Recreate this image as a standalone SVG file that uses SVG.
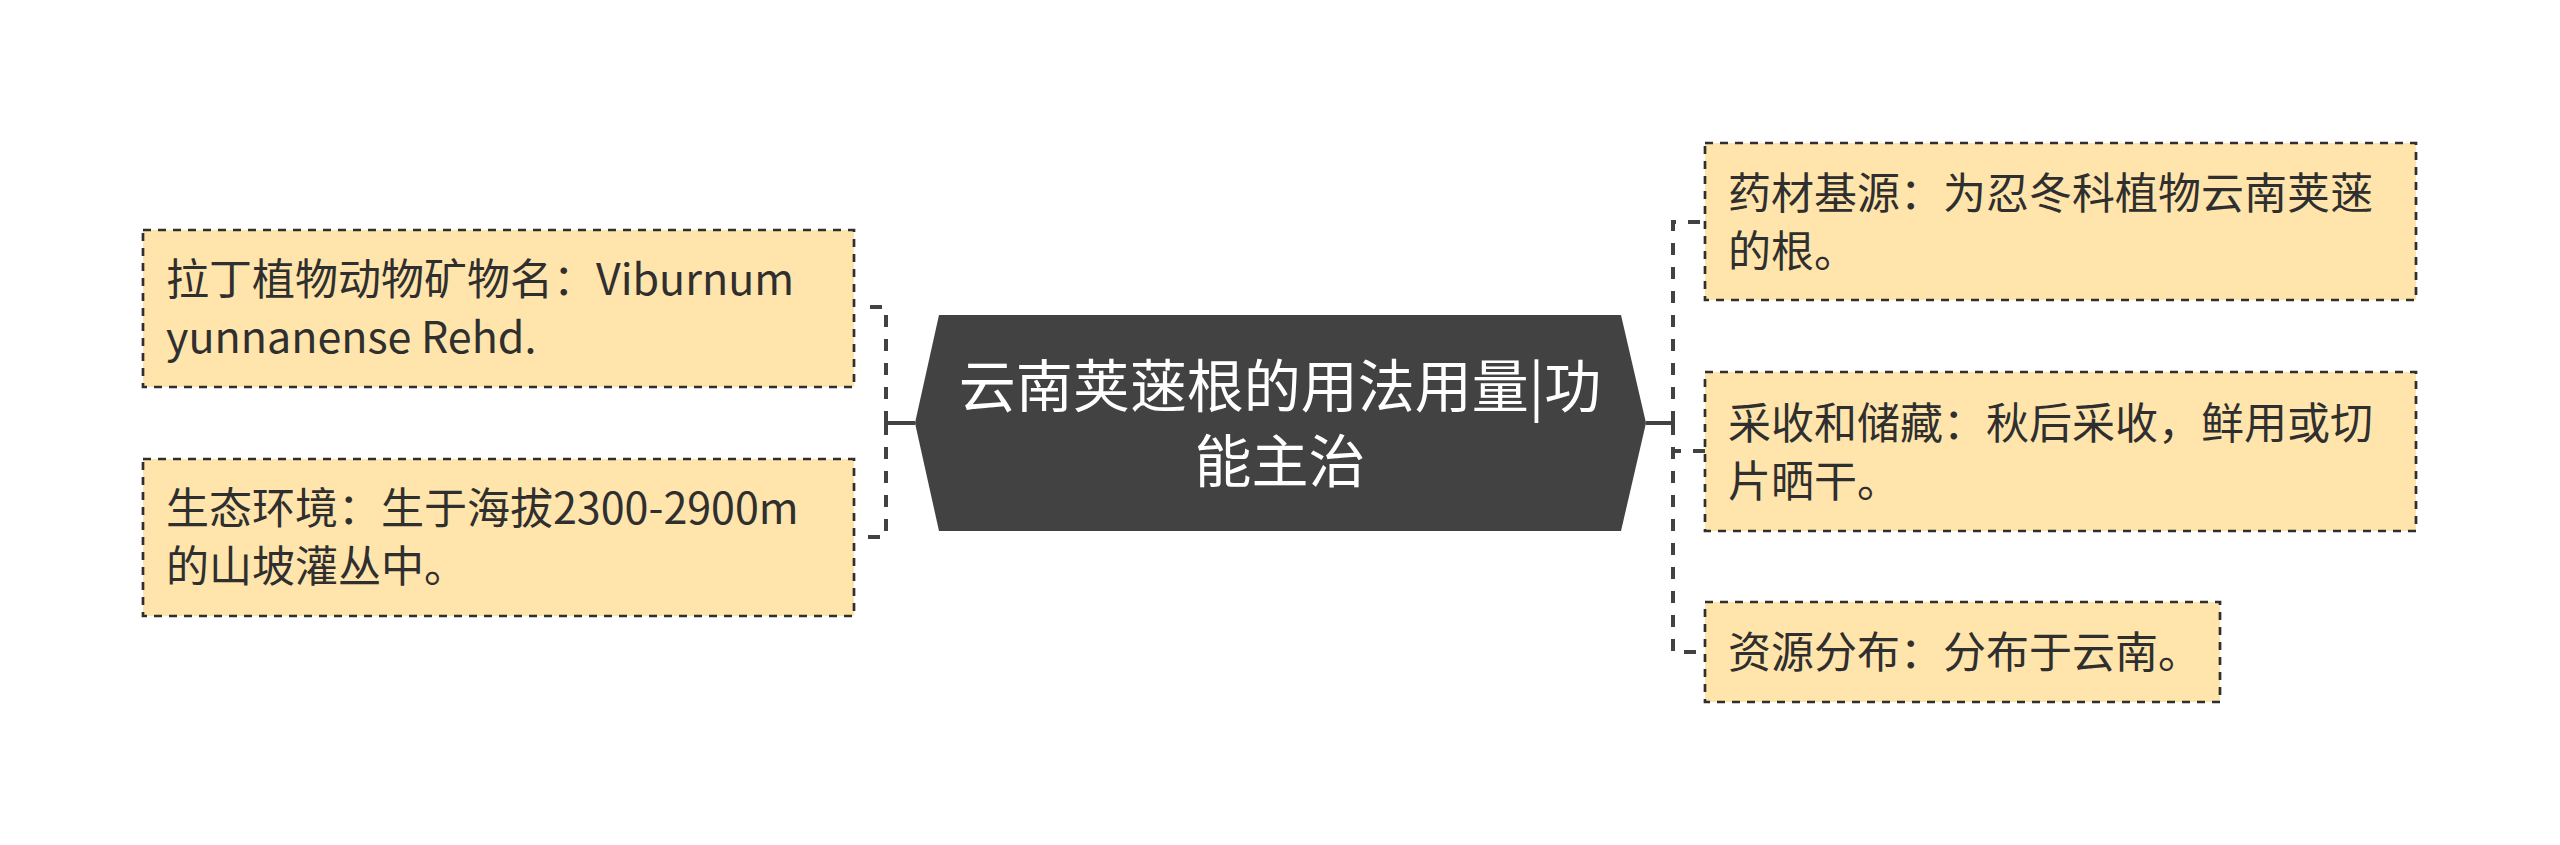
<svg xmlns="http://www.w3.org/2000/svg" width="2560" height="845" viewBox="0 0 2560 845">
<style>
.bg{fill:#ffffff}
.node rect{fill:#FFE5AB;stroke:#2f2f2f;stroke-width:2.7;stroke-dasharray:8 7}
.node text{font-family:"Noto Sans CJK SC","Noto Sans",sans-serif;font-size:43px;fill:#2f2f2f}
.center polygon{fill:#424242}
.center text{font-family:"Noto Sans CJK SC","Noto Sans",sans-serif;font-size:57px;fill:#ffffff;text-anchor:middle}
.conn path{fill:none;stroke:#424242;stroke-width:4}
.conn path.d{stroke-dasharray:12 12}
</style>
<rect class="bg" x="0" y="0" width="2560" height="845"/>
<g id="connectors" class="conn">
<path d="M915,423 H886 M886,411 V435"/>
<path d="M1646,423 H1673 M1673,411 V435"/>
<path class="d" d="M886,423 V307 H858"/>
<path class="d" d="M886,423 V537 H858"/>
<path class="d" d="M1673,423 V222 H1705"/>
<path class="d" d="M1673,423 V451 H1705"/>
<path class="d" d="M1673,423 V652 H1705"/>
</g>
<g id="center" class="center">
<polygon points="939,315 1621,315 1646,423 1621,531 939,531 915,423"/>
<text x="1280" y="407">云南荚蒾根的用法用量|功</text>
<text x="1280" y="482">能主治</text>
</g>
<g id="node-latin" class="node">
<rect x="143" y="230" width="711" height="157"/>
<text x="166" y="295">拉丁植物动物矿物名：Viburnum</text>
<text x="166" y="353">yunnanense Rehd.</text>
</g>
<g id="node-habitat" class="node">
<rect x="143" y="459" width="711" height="157"/>
<text x="166" y="524">生态环境：生于海拔2300-2900m</text>
<text x="166" y="582">的山坡灌丛中。</text>
</g>
<g id="node-source" class="node">
<rect x="1705" y="143" width="711" height="157"/>
<text x="1728" y="209">药材基源：为忍冬科植物云南荚蒾</text>
<text x="1728" y="267">的根。</text>
</g>
<g id="node-harvest" class="node">
<rect x="1705" y="372" width="711" height="159"/>
<text x="1728" y="439">采收和储藏：秋后采收，鲜用或切</text>
<text x="1728" y="497">片晒干。</text>
</g>
<g id="node-distribution" class="node">
<rect x="1705" y="602" width="515" height="100"/>
<text x="1728" y="668">资源分布：分布于云南。</text>
</g>
</svg>
